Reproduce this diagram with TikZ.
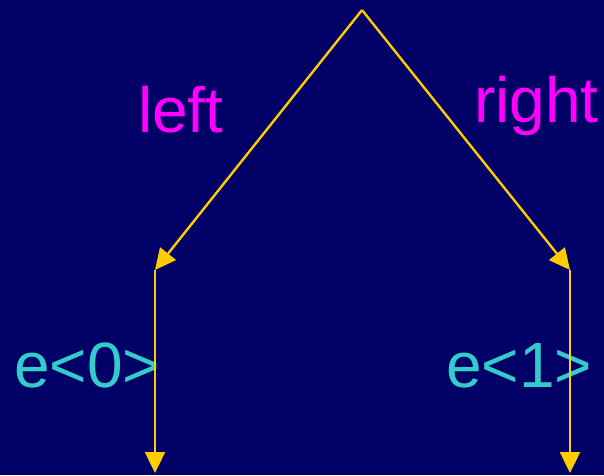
\documentclass[tikz,border=0pt]{standalone}
\usepackage{fontspec}
\setmainfont{Liberation Sans}
\usetikzlibrary{arrows.meta}

\definecolor{navy}{HTML}{000066}
\definecolor{gold}{HTML}{FFCC00}
\definecolor{pink}{HTML}{FF00FF}
\definecolor{teal}{HTML}{33CCCC}

\tikzset{
  edge/.style={gold, line width=2.4pt, -{Triangle[length=21pt,width=20pt]}},
  branch/.style={pink, font=\fontsize{64}{76}\selectfont, inner sep=0pt, anchor=base west},
  result/.style={teal, font=\fontsize{64}{76}\selectfont, inner sep=0pt, anchor=base west}
}

\begin{document}
\begin{tikzpicture}[x=1pt, y=-1pt]
    % Background
    \fill[navy] (0,0) rectangle (604,475);
    \useasboundingbox (0,0) rectangle (604,475);

    % Labels
    \node[branch] (lefttxt) at (138,132) {left};
    \node[branch] (righttxt) at (474,122) {right};
    \node[result] (res0) at (14,387) {e<0>};
    \node[result] (res1) at (446,387) {e<1>};

    % Tree points
    \coordinate (root) at (362,10);
    \coordinate (lfork) at (155,270);
    \coordinate (rfork) at (570,270);
    \coordinate (lend) at (155,473);
    \coordinate (rend) at (570,473);

    % Branches
    \draw[edge] (root) -- (lfork);
    \draw[edge] (root) -- (rfork);
    \draw[edge] (lfork) -- (lend);
    \draw[edge] (rfork) -- (rend);
\end{tikzpicture}
\end{document}
